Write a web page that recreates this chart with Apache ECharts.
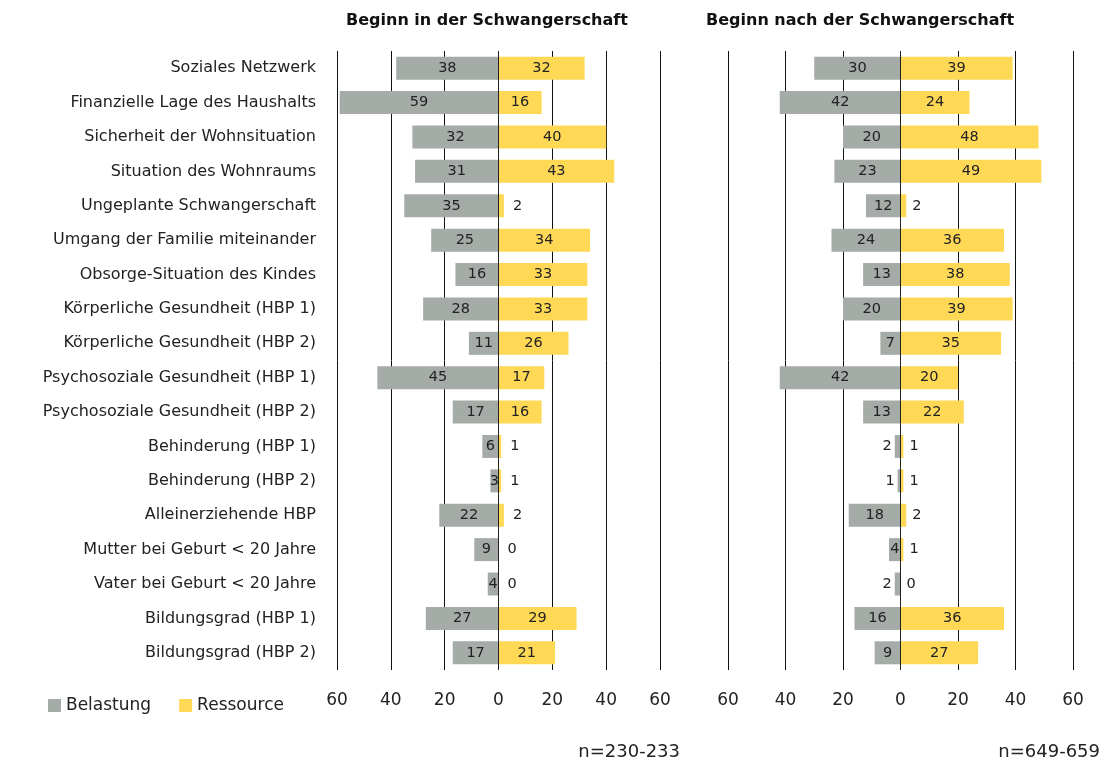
<!DOCTYPE html>
<html>
<head>
<meta charset="utf-8">
<script src="https://cdn.jsdelivr.net/npm/echarts@6/dist/echarts.min.js"></script>
<style>
  html, body { margin: 0; padding: 0; background: #fff; }
  #chart { width: 1103px; height: 763px; }
</style>
</head>
<body>
<div id="chart"></div>
<script>
const categories = [
    'Soziales Netzwerk',
    'Finanzielle Lage des Haushalts',
    'Sicherheit der Wohnsituation',
    'Situation des Wohnraums',
    'Ungeplante Schwangerschaft',
    'Umgang der Familie miteinander',
    'Obsorge-Situation des Kindes',
    'Körperliche Gesundheit (HBP 1)',
    'Körperliche Gesundheit (HBP 2)',
    'Psychosoziale Gesundheit (HBP 1)',
    'Psychosoziale Gesundheit (HBP 2)',
    'Behinderung (HBP 1)',
    'Behinderung (HBP 2)',
    'Alleinerziehende HBP',
    'Mutter bei Geburt < 20 Jahre',
    'Vater bei Geburt < 20 Jahre',
    'Bildungsgrad (HBP 1)',
    'Bildungsgrad (HBP 2)'
];

// Beginn in der Schwangerschaft
const belastungIn = [38, 59, 32, 31, 35, 25, 16, 28, 11, 45, 17, 6, 3, 22, 9, 4, 27, 17];
const ressourceIn = [32, 16, 40, 43, 2, 34, 33, 33, 26, 17, 16, 1, 1, 2, 0, 0, 29, 21];

// Beginn nach der Schwangerschaft
const belastungNach = [30, 42, 20, 23, 12, 24, 13, 20, 7, 42, 13, 2, 1, 18, 4, 2, 16, 9];
const ressourceNach = [39, 24, 48, 49, 2, 36, 38, 39, 35, 20, 22, 1, 1, 2, 1, 0, 36, 27];

const grey = '#a5aba6';
const yellow = '#ffd956';
const font = 'DejaVu Sans';

const chart = echarts.init(document.getElementById('chart'));

function negData(values, outsideMax) {
    return values.map(v => {
        const item = { value: -v };
        if (v <= outsideMax) {
            item.label = { position: 'left', distance: 3 };
        }
        return item;
    });
}

function posData(values, dist) {
    return values.map(v => {
        const item = { value: v };
        if (v <= 2) {
            item.label = { position: 'right', distance: dist };
        }
        return item;
    });
}

function xAxis(gridIndex) {
    return {
        type: 'value',
        gridIndex: gridIndex,
        min: -60,
        max: 60,
        interval: 20,
        axisLine: { show: false },
        axisTick: { show: false },
        splitLine: { show: true, lineStyle: { color: '#111', width: 1 } },
        axisLabel: {
            margin: 22,
            fontSize: 17,
            fontFamily: font,
            color: '#222',
            formatter: v => Math.abs(v)
        }
    };
}

function yAxis(gridIndex, showLabels) {
    return {
        type: 'category',
        gridIndex: gridIndex,
        data: categories,
        inverse: true,
        axisLine: { show: false },
        axisTick: { show: false },
        axisLabel: {
            show: showLabels,
            margin: 21,
            fontSize: 16,
            fontFamily: font,
            color: '#222'
        }
    };
}

const labelBase = {
    show: true,
    position: 'inside',
    fontSize: 14.5,
    fontFamily: font,
    color: '#222',
    formatter: p => Math.abs(p.value)
};

const zeroLine = {
    silent: true,
    symbol: 'none',
    label: { show: false },
    lineStyle: { color: '#222', width: 1, type: 'solid' },
    data: [{ xAxis: 0 }]
};

function series(gridIndex, bel, res, outsideMax, resDist) {
    return [
        {
            name: 'Belastung',
            type: 'bar',
            xAxisIndex: gridIndex,
            yAxisIndex: gridIndex,
            barWidth: 23,
            barGap: '-100%',
            itemStyle: { color: grey },
            label: labelBase,
            data: negData(bel, outsideMax)
        },
        {
            name: 'Ressource',
            type: 'bar',
            xAxisIndex: gridIndex,
            yAxisIndex: gridIndex,
            barWidth: 23,
            barGap: '-100%',
            itemStyle: { color: yellow },
            label: labelBase,
            markLine: zeroLine,
            data: posData(res, resDist)
        }
    ];
}

const option = {
    animation: false,
    backgroundColor: '#fff',
    textStyle: { fontFamily: font },
    title: [
        {
            text: 'Beginn in der Schwangerschaft',
            left: 341,
            top: 8,
            textStyle: { fontSize: 16, fontWeight: 'bold', color: '#111', fontFamily: font }
        },
        {
            text: 'Beginn nach der Schwangerschaft',
            left: 701,
            top: 8,
            textStyle: { fontSize: 16, fontWeight: 'bold', color: '#111', fontFamily: font }
        }
    ],
    legend: {
        left: 43,
        top: 692,
        icon: 'rect',
        itemWidth: 13,
        itemHeight: 13,
        itemGap: 28,
        textStyle: { fontSize: 17, color: '#222', fontFamily: font },
        data: ['Belastung', 'Ressource']
    },
    grid: [
        { left: 337, width: 323, top: 51, height: 619 },
        { left: 728, width: 345, top: 51, height: 619 }
    ],
    xAxis: [xAxis(0), xAxis(1)],
    yAxis: [yAxis(0, true), yAxis(1, false)],
    series: [
        ...series(0, belastungIn, ressourceIn, 0, 9),
        ...series(1, belastungNach, ressourceNach, 2, 6)
    ],
    graphic: [
        {
            type: 'text',
            right: 423,
            top: 743,
            style: { text: 'n=230-233', fontSize: 18, fill: '#222', fontFamily: font }
        },
        {
            type: 'text',
            right: 3,
            top: 743,
            style: { text: 'n=649-659', fontSize: 18, fill: '#222', fontFamily: font }
        }
    ]
};

chart.setOption(option);
</script>
</body>
</html>
